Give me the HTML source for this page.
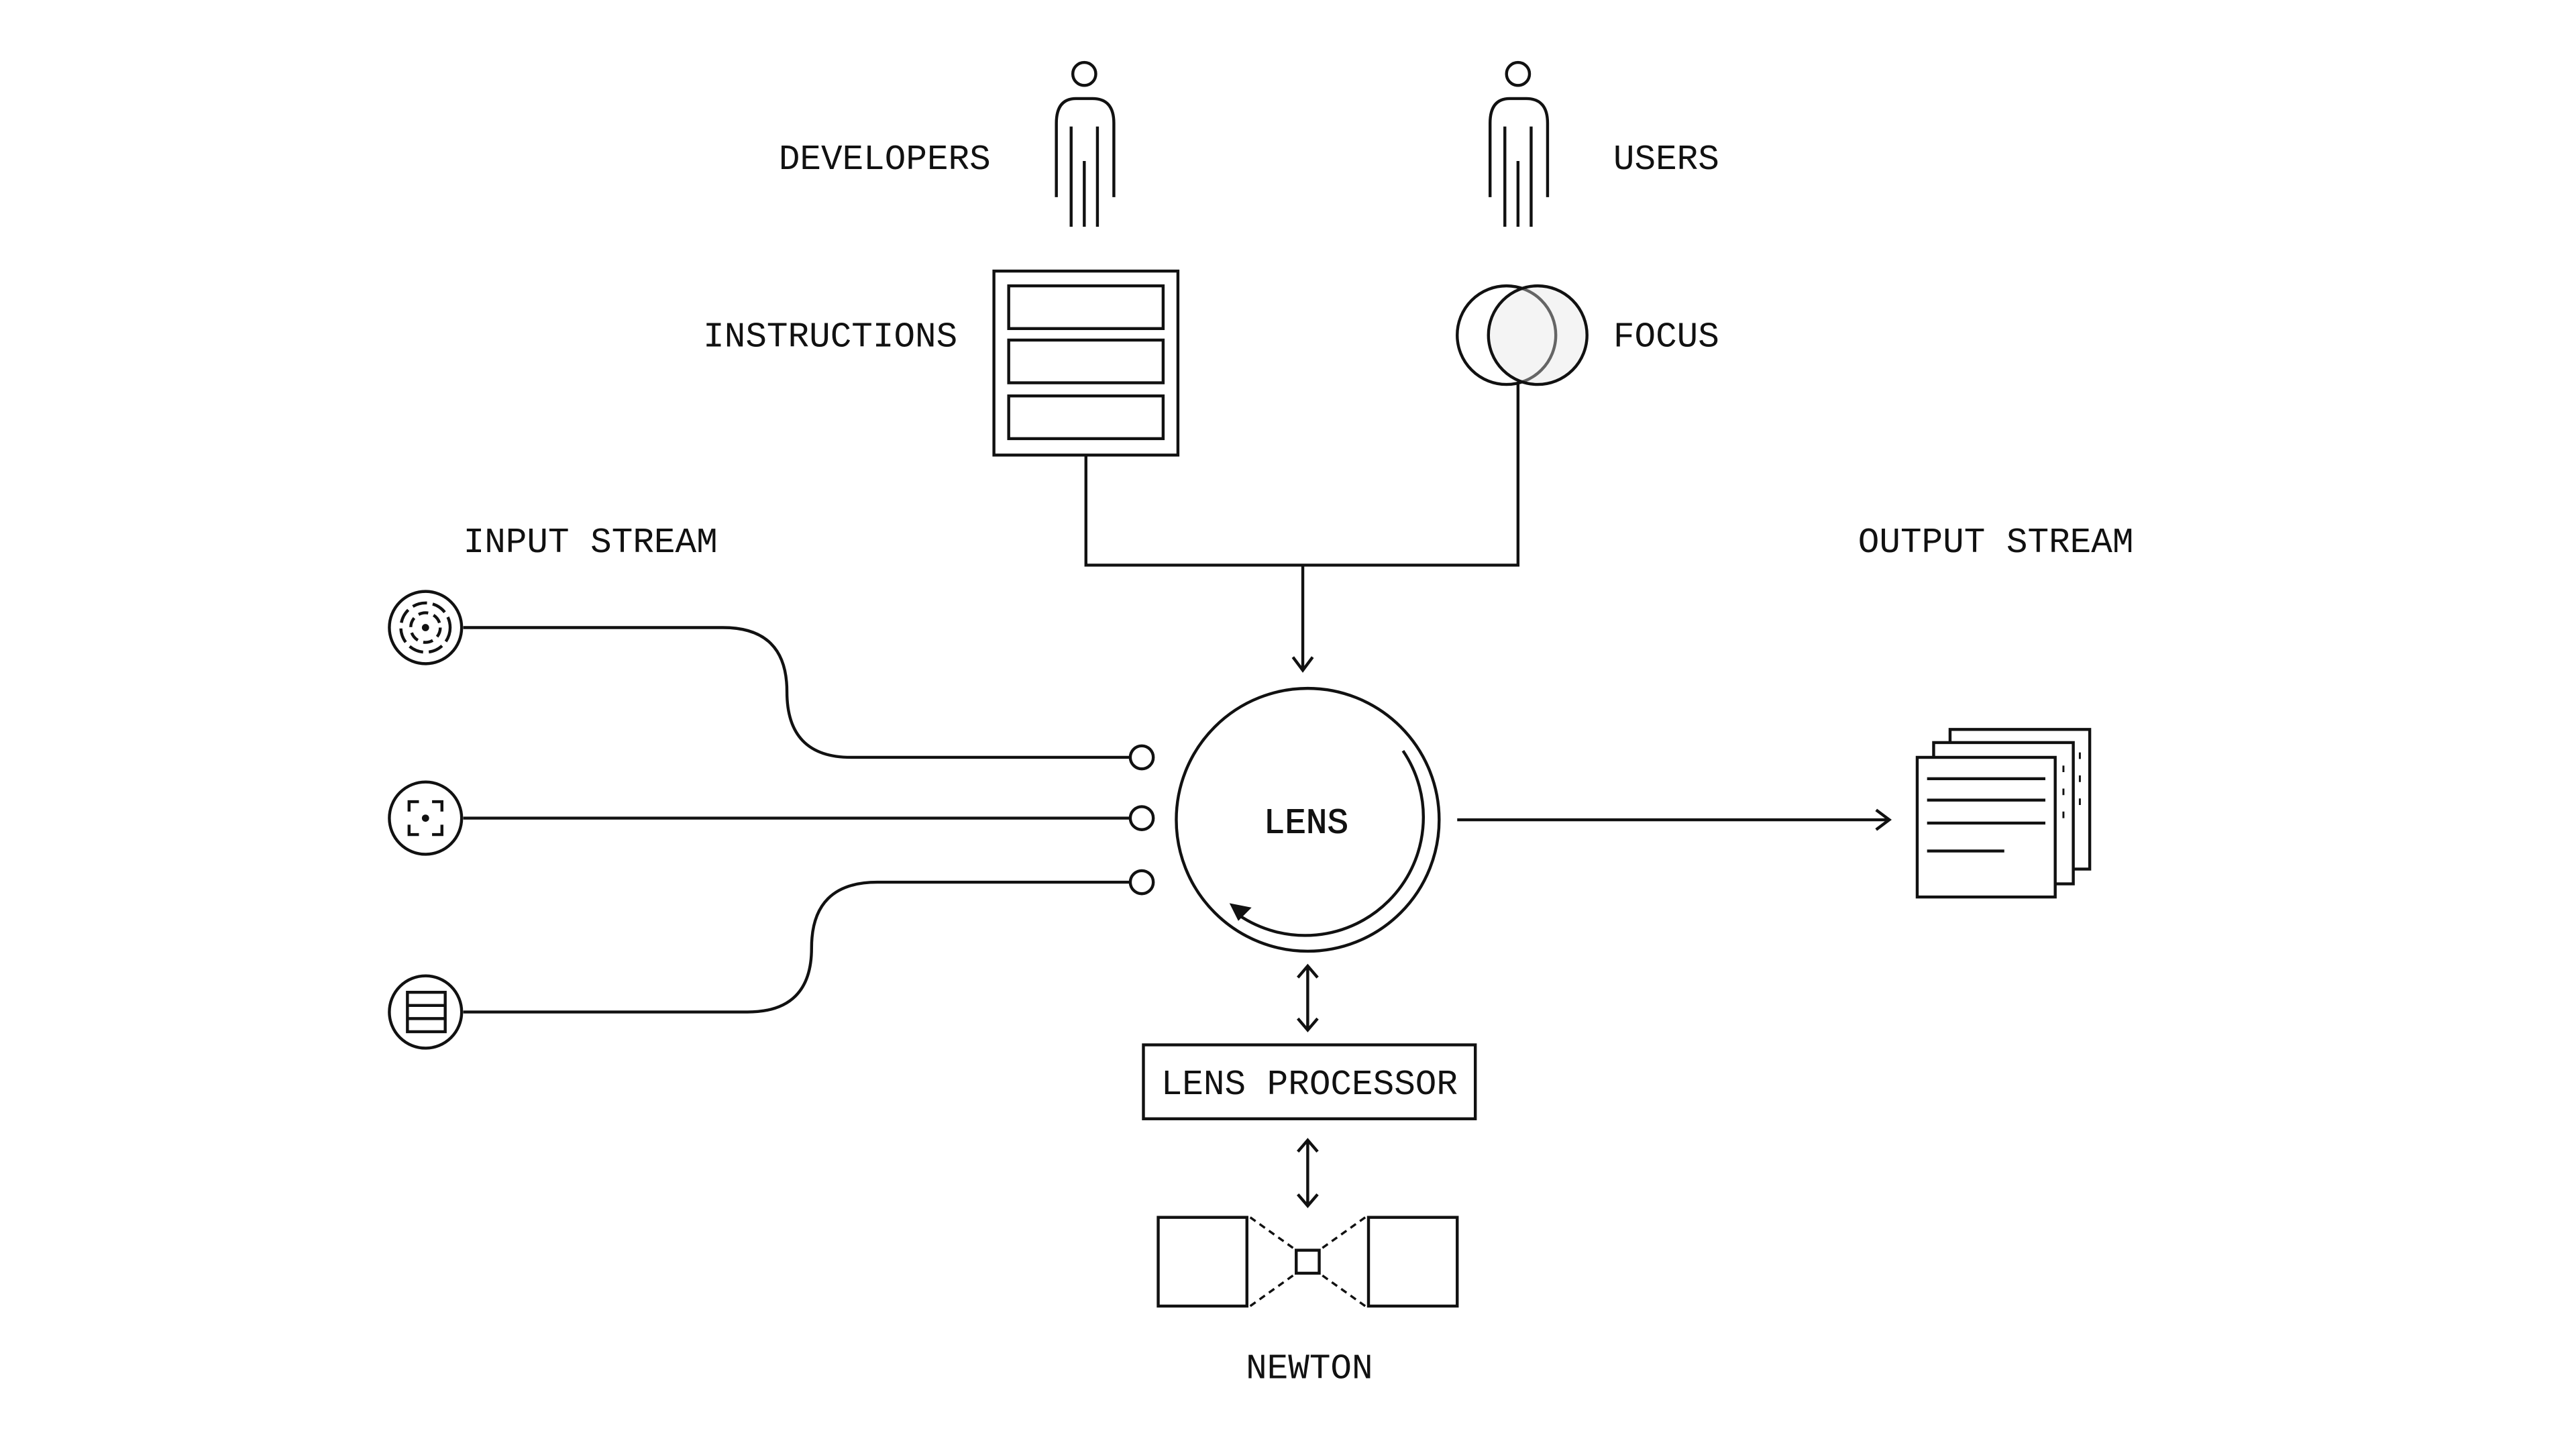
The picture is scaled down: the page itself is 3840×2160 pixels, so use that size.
<!DOCTYPE html>
<html><head><meta charset="utf-8"><style>
html,body{margin:0;padding:0;background:#fff;}
svg{display:block;}
text{font-family:"Liberation Mono",monospace;font-size:21.5px;fill:#111;}
</style></head><body>
<svg width="3840" height="2160" viewBox="0 0 1568 882" xmlns="http://www.w3.org/2000/svg">
<rect width="1600" height="900" fill="#fff"/>
<g fill="none" stroke="#111" stroke-width="1.8">
<g>
<circle cx="660" cy="45" r="7"/>
<path d="M643,120 V75 Q643,60 655,60 H665 Q678,60 678,75 V120"/>
<path d="M652,138 V77 M668,138 V77 M660,138 V98"/>
</g>
<g transform="translate(264,0)">
<circle cx="660" cy="45" r="7"/>
<path d="M643,120 V75 Q643,60 655,60 H665 Q678,60 678,75 V120"/>
<path d="M652,138 V77 M668,138 V77 M660,138 V98"/>
</g>
<rect x="605" y="165" width="112" height="112"/>
<rect x="614" y="174" width="94" height="26"/>
<rect x="614" y="207" width="94" height="26"/>
<rect x="614" y="241" width="94" height="26"/>
<circle cx="917" cy="204" r="30"/>
<circle cx="936" cy="204" r="30" fill="rgba(228,228,228,0.4)"/>
<path d="M924,234 V344 H661 V277"/>
<path d="M793,344 V408 M787,400 L793,408 L799,400"/>
<circle cx="796" cy="499" r="80"/>
<path d="M854,457 A72,72 0 0 1 754,557"/>
<path d="M750,551 l10,2 l-6,6 z" fill="#111"/>
<path d="M887,499 H1150 M1142,493 L1150,499 L1142,505"/>
<rect x="1187" y="444" width="85" height="85" fill="#fff"/>
<rect x="1177" y="452" width="85" height="86" fill="#fff"/>
<rect x="1167" y="461" width="84" height="85" fill="#fff"/>
<path d="M1173,474 H1245 M1173,487 H1245 M1173,501 H1245 M1173,518 H1220"/>
<path d="M1256,466 V470 M1256,480 V484 M1256,494 V498 M1266,458 V462 M1266,472 V476 M1266,486 V490" stroke-width="1.2"/>
<path d="M282,382 H440 Q479,382 479,421 Q479,461 518,461 H688"/>
<path d="M282,498 H688"/>
<path d="M282,616 H455 Q494,616 494,577 Q494,537 534,537 H688"/>
<circle cx="695" cy="461" r="7" fill="#fff"/>
<circle cx="695" cy="498" r="7" fill="#fff"/>
<circle cx="695" cy="537" r="7" fill="#fff"/>
<circle cx="259" cy="382" r="22"/>
<circle cx="259" cy="382" r="15" stroke-dasharray="9 3.5"/>
<circle cx="259" cy="382" r="9" stroke-dasharray="6 3.5"/>
<circle cx="259" cy="498" r="22"/>
<path d="M249,494 V488 H255 M263,488 H269 V494 M269,502 V508 H263 M255,508 H249 V502"/>
<circle cx="259" cy="616" r="22"/>
<rect x="248" y="604" width="23" height="24"/>
<path d="M248,612 H271 M248,620 H271"/>
<path d="M796,588 V627 M790,595 L796,588 L802,595 M790,620 L796,627 L802,620"/>
<rect x="696" y="636" width="202" height="45"/>
<path d="M796,694 V734 M790,701 L796,694 L802,701 M790,727 L796,734 L802,727"/>
<rect x="705" y="741" width="54" height="54"/>
<rect x="833" y="741" width="54" height="54"/>
<rect x="789" y="761" width="14" height="14"/>
<path d="M761,741 L789,761 M761,795 L789,775 M831,741 L803,761 M831,795 L803,775" stroke-dasharray="4 3" stroke-width="1.4"/>
</g>
<circle cx="259" cy="382" r="2.2" fill="#111"/>
<circle cx="259" cy="498" r="2.2" fill="#111"/>
<text x="474" y="103">DEVELOPERS</text>
<text x="982" y="103">USERS</text>
<text x="428" y="211">INSTRUCTIONS</text>
<text x="982" y="211">FOCUS</text>
<text x="282" y="336">INPUT STREAM</text>
<text x="1131" y="336">OUTPUT STREAM</text>
<text x="795" y="507" text-anchor="middle" stroke="#111" stroke-width="0.4">LENS</text>
<text x="797" y="666" text-anchor="middle">LENS PROCESSOR</text>
<text x="797" y="839" text-anchor="middle">NEWTON</text>
</svg>
</body></html>
